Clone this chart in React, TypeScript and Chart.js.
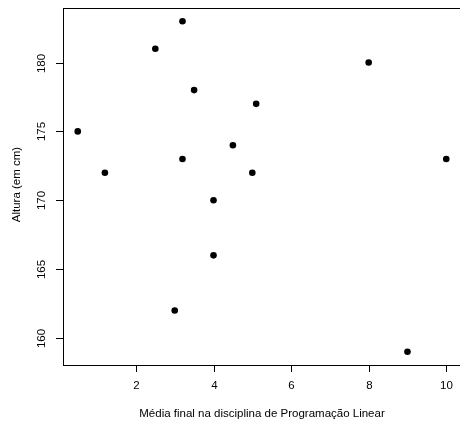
import React, { useEffect, useRef } from "react";
import { Chart, registerables } from "chart.js";

Chart.register(...registerables);

// Final grade in Linear Programming vs. height (cm)
const mediaFinal = [0.5, 1.2, 2.5, 3.2, 3.5, 3.2, 4, 8, 5.1, 4.5, 5.0, 10, 4, 3.0, 9];
const altura = [175, 172, 181, 183, 178, 173, 170, 180, 177, 174, 172, 173, 166, 162, 159];

const xTicks = [2, 4, 6, 8, 10];
const yTicks = [160, 165, 170, 175, 180];

const xTitle = "Média final na disciplina de Programação Linear";
const yTitle = "Altura (em cm)";

// R-style axis range: data range extended by 4% on each side
const pad = (arr: number[]) => {
  const lo = Math.min(...arr);
  const hi = Math.max(...arr);
  const d = (hi - lo) * 0.04;
  return [lo - d, hi + d];
};

const FONT = '11.5px "Liberation Sans", Arial, Helvetica, sans-serif';

const baseAxes = {
  id: "baseAxes",
  afterDraw(chart: any) {
    const { ctx, chartArea: a, scales } = chart;
    const xs = scales.x;
    const ys = scales.y;
    ctx.save();
    ctx.strokeStyle = "#000";
    ctx.lineWidth = 1;
    // box
    ctx.strokeRect(Math.round(a.left) + 0.5, Math.round(a.top) + 0.5, Math.round(a.right - a.left), Math.round(a.bottom - a.top));
    ctx.fillStyle = "#000";
    ctx.font = FONT;
    // x ticks and labels
    ctx.textAlign = "center";
    ctx.textBaseline = "middle";
    xTicks.forEach((v) => {
      const px = Math.round(xs.getPixelForValue(v)) + 0.5;
      ctx.beginPath();
      ctx.moveTo(px, a.bottom);
      ctx.lineTo(px, a.bottom + 7);
      ctx.stroke();
      ctx.fillText(String(v), px, a.bottom + 21);
    });
    // y ticks and rotated labels
    yTicks.forEach((v) => {
      const py = Math.round(ys.getPixelForValue(v)) + 0.5;
      ctx.beginPath();
      ctx.moveTo(a.left, py);
      ctx.lineTo(a.left - 7, py);
      ctx.stroke();
      ctx.save();
      ctx.translate(a.left - 21, py);
      ctx.rotate(-Math.PI / 2);
      ctx.fillText(String(v), 0, 0);
      ctx.restore();
    });
    // axis titles
    ctx.fillText(xTitle, (a.left + a.right) / 2, a.bottom + 49);
    ctx.save();
    ctx.translate(a.left - 46, (a.top + a.bottom) / 2 - 2);
    ctx.rotate(-Math.PI / 2);
    ctx.fillText(yTitle, 0, 0);
    ctx.restore();
    ctx.restore();
  },
};

export default function App() {
  const ref = useRef<HTMLCanvasElement | null>(null);

  useEffect(() => {
    if (!ref.current) return;
    const [xMin, xMax] = pad(mediaFinal);
    const [yMin, yMax] = pad(altura);
    const chart = new Chart(ref.current, {
      type: "scatter",
      data: {
        datasets: [
          {
            data: mediaFinal.map((x, i) => ({ x, y: altura[i] })),
            backgroundColor: "#000",
            borderColor: "#000",
            pointRadius: 3.3,
            pointBorderWidth: 0,
          },
        ],
      },
      options: {
        responsive: false,
        animation: false,
        events: [],
        layout: { padding: { left: 63, top: 8, right: 9, bottom: 59 } },
        plugins: { legend: { display: false }, tooltip: { enabled: false } },
        scales: {
          x: { type: "linear", display: false, min: xMin, max: xMax },
          y: { type: "linear", display: false, min: yMin, max: yMax },
        },
      },
      plugins: [baseAxes],
    });
    return () => chart.destroy();
  }, []);

  return (
    <div
      style={{
        position: "fixed",
        left: 0,
        top: 0,
        width: 460,
        height: 424,
        overflow: "hidden",
        background: "#fff",
      }}
    >
      <canvas ref={ref} width={470} height={424} style={{ display: "block", width: 470, height: 424 }} />
    </div>
  );
}
